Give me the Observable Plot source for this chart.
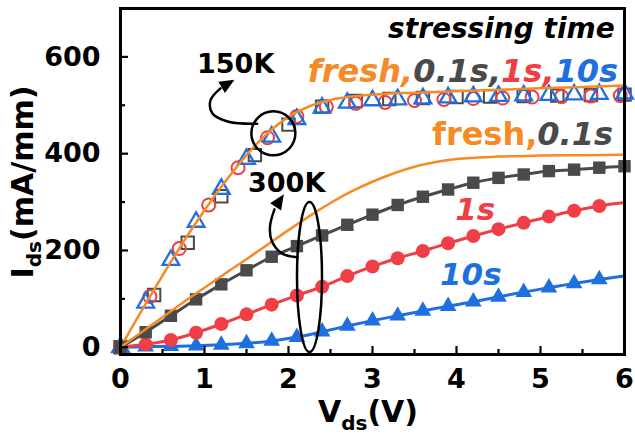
<!DOCTYPE html>
<html>
<head>
<meta charset="utf-8">
<script src="https://cdn.jsdelivr.net/npm/d3@7"></script>
<script src="https://cdn.jsdelivr.net/npm/@observablehq/plot@0.6"></script>
<style>
  body { margin: 0; background: #fff; }
</style>
</head>
<body>
<div id="chart"></div>
<script>
// Output characteristics I_ds–V_ds before and after stress, at 150 K and 300 K
const FONT = "'DejaVu Sans', 'Liberation Sans', sans-serif";
const ORANGE = "#f58b27", GRAY = "#4a4a4a", RED = "#ef3e45", BLUE = "#1f6fe0";

// drain-voltage grids of the individual sweeps (V)
const vdsFresh = [0, 0.25, 0.5, 0.75, 1, 1.25, 1.5, 1.75, 2, 2.25, 2.5, 2.75, 3, 3.5, 4, 4.5, 5, 5.5, 6];
const vdsStep030 = [0, 0.3, 0.6, 0.9, 1.2, 1.5, 1.8, 2.1, 2.4, 2.7, 3.0, 3.3, 3.6, 3.9, 4.2, 4.5, 4.8, 5.1, 5.4, 5.7, 6.0];
const vdsStep035 = [0, 0.35, 0.7, 1.05, 1.4, 1.75, 2.1, 2.45, 2.8, 3.15, 3.5, 3.85, 4.2, 4.55, 4.9, 5.25, 5.6, 5.95];
const vdsStep040 = [0, 0.4, 0.8, 1.2, 1.6, 2.0, 2.4, 2.8, 3.2, 3.6, 4.0, 4.4, 4.8, 5.2, 5.6, 6.0];

// 150 K (mA/mm)
const ids150Fresh = [0, 75, 148, 218, 283, 343, 397, 442, 476, 498, 511, 518, 522, 526, 529, 532, 535, 538, 541];
const ids150_01s  = [0, 108, 216, 312, 397, 460, 497, 509, 513, 515, 517, 518, 519, 520, 521, 522];
const ids150_1s   = [0, 105, 204, 294, 371, 433, 477, 497, 504, 506, 510, 512, 514, 515, 517, 518, 519, 520];
const ids150_10s  = [0, 92, 180, 259, 327, 389, 435, 471, 495, 505, 510, 512, 514, 516, 518, 519, 520, 521, 522, 523, 524];

// 300 K (mA/mm)
const ids300Fresh = [0, 31, 62, 93, 123, 153, 182, 212, 242, 271, 298, 322, 342, 373, 389, 394, 396, 397, 398];
const ids300_01s  = [0, 31, 65, 99, 130, 159, 187, 209, 231, 253, 274, 294, 311, 326, 340, 350, 357, 364, 367, 371, 374];
const ids300_1s   = [0, 6, 15, 30, 48, 68, 88, 107, 125, 147, 167, 184, 199, 215, 230, 244, 257, 270, 282, 292, 299];
const ids300_10s  = [0, 1, 2, 3, 5, 8, 13, 21, 32, 44, 55, 65, 75, 85, 94, 104, 114, 123, 132, 140, 147];

// axis ticks
const xMajor = [0, 1, 2, 3, 4, 5, 6];
const xMinor = [0.5, 1.5, 2.5, 3.5, 4.5, 5.5];
const yMajor = [0, 200, 400, 600];
const yMinor = [100, 300, 500];

// annotation geometry, in data units
const ring150 = [{x: 1.82, y: 442}];
const ring300 = [{x: 2.25, y: 145}];
const arrow150 = [[1.627, 462], [1.286, 466], [1.095, 483], [1.071, 510], [1.19, 535]];
const tip150 = [{x: 1.357, y: 553}];
const arrow300 = [[2.104, 186], [1.92, 194], [1.8, 220], [1.78, 250], [1.833, 285]];
const tip300 = [{x: 1.944, y: 316}];

const zip = (xs, ys) => xs.map((x, i) => ({x, y: ys[i]}));

function ellipseSymbol(rx, ry) {
  const k = 0.5523;
  return {
    draw(ctx) {
      ctx.moveTo(rx, 0);
      ctx.bezierCurveTo(rx, ry * k, rx * k, ry, 0, ry);
      ctx.bezierCurveTo(-rx * k, ry, -rx, ry * k, -rx, 0);
      ctx.bezierCurveTo(-rx, -ry * k, -rx * k, -ry, 0, -ry);
      ctx.bezierCurveTo(rx * k, -ry, rx, -ry * k, rx, 0);
      ctx.closePath();
    }
  };
}

// filled arrow head with its tip at the anchor point
function headSymbol(angleDeg, len = 15, half = 6.5) {
  const a = angleDeg * Math.PI / 180, c = Math.cos(a), s = Math.sin(a);
  return {
    draw(ctx) {
      const bx = -len * c, by = -len * s;
      ctx.moveTo(0, 0);
      ctx.lineTo(bx - half * s, by + half * c);
      ctx.lineTo(bx + half * s, by - half * c);
      ctx.closePath();
    }
  };
}

const W = 635, H = 443, mL = 120, mR = 11, mT = 8, mB = 89;
const innerW = W - mL - mR, innerH = H - mT - mB;

const plot = Plot.plot({
  width: W,
  height: H,
  marginLeft: mL,
  marginRight: mR,
  marginTop: mT,
  marginBottom: mB,
  style: {fontFamily: FONT, fontWeight: "bold", background: "#fff", overflow: "visible"},
  x: {domain: [0, 6]},
  y: {domain: [-15, 700]},
  marks: [
    // 150 K: stressed sweeps as open symbols
    Plot.dot(zip(vdsStep040, ids150_01s), {x: "x", y: "y", symbol: "square", r: 7, stroke: GRAY, strokeWidth: 2, fill: "none"}),
    Plot.dot(zip(vdsStep035, ids150_1s), {x: "x", y: "y", symbol: "circle", r: 6.5, stroke: RED, strokeWidth: 2, fill: "none"}),
    Plot.dot(zip(vdsStep030, ids150_10s), {x: "x", y: "y", symbol: "triangle", r: 6.2, stroke: BLUE, strokeWidth: 2.3, fill: "none"}),
    Plot.line(zip(vdsFresh, ids150Fresh), {x: "x", y: "y", curve: "monotone-x", stroke: ORANGE, strokeWidth: 2.5}),

    // 300 K: stressed sweeps as lines with filled symbols
    Plot.line(zip(vdsStep030, ids300_10s), {x: "x", y: "y", curve: "monotone-x", stroke: BLUE, strokeWidth: 3}),
    Plot.dot(zip(vdsStep030, ids300_10s).filter(d => d.x < 5.9), {x: "x", y: "y", symbol: "triangle", r: 6.2, fill: BLUE}),
    Plot.line(zip(vdsStep030, ids300_1s), {x: "x", y: "y", curve: "monotone-x", stroke: RED, strokeWidth: 3}),
    Plot.dot(zip(vdsStep030, ids300_1s).filter(d => d.x < 5.9), {x: "x", y: "y", symbol: "circle", r: 7, fill: RED}),
    Plot.line(zip(vdsStep030, ids300_01s), {x: "x", y: "y", curve: "monotone-x", stroke: GRAY, strokeWidth: 3}),
    Plot.dot(zip(vdsStep030, ids300_01s), {x: "x", y: "y", symbol: "square", r: 7, fill: GRAY}),
    Plot.line(zip(vdsFresh, ids300Fresh), {x: "x", y: "y", curve: "monotone-x", stroke: ORANGE, strokeWidth: 2.5}),

    // temperature callouts
    Plot.dot(ring150, {x: "x", y: "y", r: 22, stroke: "black", strokeWidth: 2.5, fill: "none"}),
    Plot.dot(ring300, {x: "x", y: "y", symbol: ellipseSymbol(12.5, 75), stroke: "black", strokeWidth: 2.5, fill: "none"}),
    Plot.line(arrow150, {x: d => d[0], y: d => d[1], curve: "catmull-rom", stroke: "black", strokeWidth: 2.5}),
    Plot.dot(tip150, {x: "x", y: "y", symbol: headSymbol(-31), fill: "black", stroke: "none"}),
    Plot.line(arrow300, {x: d => d[0], y: d => d[1], curve: "catmull-rom", stroke: "black", strokeWidth: 2.5}),
    Plot.dot(tip300, {x: "x", y: "y", symbol: headSymbol(-57), fill: "black", stroke: "none"}),

    // inward ticks
    Plot.tickX(xMajor, {x: d => d, insetTop: innerH - 8, stroke: "black", strokeWidth: 2.2}),
    Plot.tickX(xMinor, {x: d => d, insetTop: innerH - 5, stroke: "black", strokeWidth: 2.2}),
    Plot.tickY(yMajor, {y: d => d, insetRight: innerW - 8, stroke: "black", strokeWidth: 2.2}),
    Plot.tickY(yMinor, {y: d => d, insetRight: innerW - 5, stroke: "black", strokeWidth: 2.2}),
    Plot.axisX({ticks: xMajor, tickFormat: d => String(d), tickSize: 0, tickPadding: 14, fontSize: 27, fontWeight: "bold", label: null}),
    Plot.axisY({ticks: yMajor, tickFormat: d => String(d), tickSize: 0, tickPadding: 20, fontSize: 27, fontWeight: "bold", label: null}),
    Plot.frame({stroke: "black", strokeWidth: 3})
  ]
});

document.getElementById("chart").append(plot);

// rich-text labels (multicolour runs and subscripts)
const sx = plot.scale("x"), sy = plot.scale("y");
const svg = d3.select(plot);

function richText(x, y, parts, {anchor = "start", size = 31} = {}) {
  const t = svg.append("text")
    .attr("x", sx.apply(x))
    .attr("y", sy.apply(y))
    .attr("text-anchor", anchor)
    .attr("font-family", FONT)
    .attr("font-weight", "bold")
    .attr("font-size", size);
  for (const [s, color, italic] of parts) {
    t.append("tspan").attr("fill", color).attr("font-style", italic ? "italic" : "normal").text(s);
  }
  return t;
}

richText(5.89, 638, [["stressing time", "black", true]], {anchor: "end", size: 28});
richText(5.93, 548, [["fresh,", ORANGE, true], ["0.1s,", GRAY, true], ["1s,", RED, true], ["10s", BLUE, true]], {anchor: "end", size: 32});
richText(5.87, 417, [["fresh,", ORANGE, false], ["0.1s", GRAY, true]], {anchor: "end", size: 32});
richText(3.99, 262, [["1s", RED, true]], {size: 31});
richText(3.81, 127, [["10s", BLUE, true]], {size: 31});
richText(0.917, 565, [["150K", "black", false]], {size: 27});
richText(1.524, 320, [["300K", "black", false]], {size: 27});

// axis titles with subscripts
function axisTitle(g, main, sub, rest) {
  g.append("tspan").text(main);
  g.append("tspan").attr("font-size", 20).attr("dy", 8).text(sub);
  g.append("tspan").attr("dy", -8).text(rest);
}

const yTitle = svg.append("text")
  .attr("transform", "translate(33,182) rotate(-90)")
  .attr("text-anchor", "middle")
  .attr("font-family", FONT).attr("font-weight", "bold").attr("font-size", 30)
  .attr("fill", "black");
axisTitle(yTitle, "I", "ds", "(mA/mm)");

const xTitle = svg.append("text")
  .attr("x", 368).attr("y", 422)
  .attr("text-anchor", "middle")
  .attr("font-family", FONT).attr("font-weight", "bold").attr("font-size", 30)
  .attr("fill", "black");
axisTitle(xTitle, "V", "ds", "(V)");
</script>
</body>
</html>
